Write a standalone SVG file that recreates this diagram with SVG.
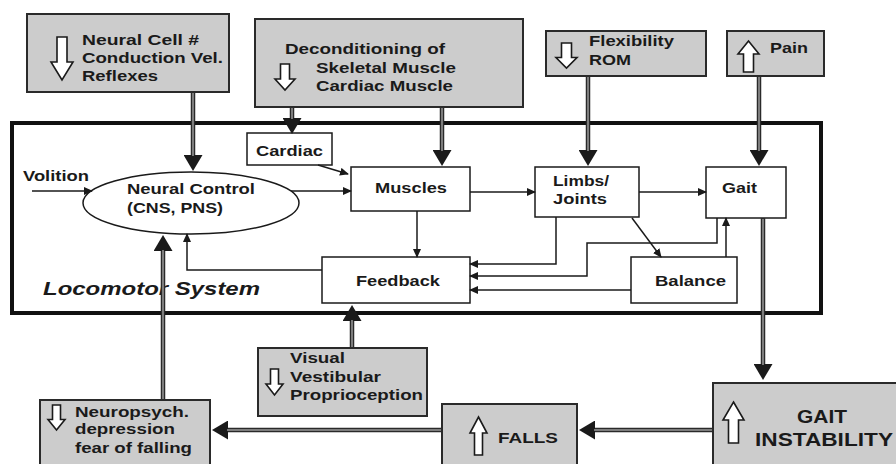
<svg xmlns="http://www.w3.org/2000/svg" width="896" height="464" viewBox="0 0 896 464">
<style>
.t{font-family:"Liberation Sans",Arial,sans-serif;font-weight:bold;font-size:15.5px;fill:#1a1a1a}
.big{font-size:18px}
.it{font-style:italic;font-size:18px}
.gbox{fill:#cccccc;stroke:#2a2a2a;stroke-width:2}
.wbox{fill:#ffffff;stroke:#1a1a1a;stroke-width:1.5}
.ico{fill:#ffffff;stroke:#1a1a1a;stroke-width:1.6;stroke-linejoin:miter}
.thk{fill:none;stroke:#2a2a2a;stroke-width:4.5}
.thi{fill:none;stroke:#9a9a9a;stroke-width:1.5}
.thn{fill:none;stroke:#1a1a1a;stroke-width:1.5}
</style>
<defs>
<marker id="mb" markerUnits="userSpaceOnUse" markerWidth="17" markerHeight="19" refX="1" refY="9.5" orient="auto"><path d="M0,0 L16,9.5 L0,19 Z" fill="#1a1a1a"/></marker>
<marker id="ms" markerUnits="userSpaceOnUse" markerWidth="10" markerHeight="8" refX="8" refY="4" orient="auto"><path d="M0,0 L9,4 L0,8 Z" fill="#1a1a1a"/></marker>
</defs>
<rect x="0" y="0" width="896" height="464" fill="#ffffff"/>

<g id="locomotor-system">
<rect x="12" y="123" width="809" height="190" fill="none" stroke="#111" stroke-width="4"/>
<text class="t it" x="43" y="295" textLength="217" lengthAdjust="spacingAndGlyphs">Locomotor System</text>
</g>

<g id="neural-cell">
<rect class="gbox" x="27" y="14" width="202" height="78"/>
<path class="ico" d="M57,37 H67 V62 H73 L62,80 L51,62 H57 Z"/>
<text class="t" x="82" y="45" textLength="117" lengthAdjust="spacingAndGlyphs">Neural Cell #</text>
<text class="t" x="82" y="63" textLength="141" lengthAdjust="spacingAndGlyphs">Conduction Vel.</text>
<text class="t" x="82" y="81" textLength="76" lengthAdjust="spacingAndGlyphs">Reflexes</text>
</g>

<g id="deconditioning">
<rect class="gbox" x="255" y="19" width="268" height="88"/>
<path class="ico" d="M280.5,64 H289.5 V79 H295 L285,90 L275,79 H280.5 Z"/>
<text class="t" x="285" y="54" textLength="160" lengthAdjust="spacingAndGlyphs">Deconditioning of</text>
<text class="t" x="316" y="73" textLength="140" lengthAdjust="spacingAndGlyphs">Skeletal Muscle</text>
<text class="t" x="316" y="91" textLength="137" lengthAdjust="spacingAndGlyphs">Cardiac Muscle</text>
</g>

<g id="flexibility">
<rect class="gbox" x="546" y="31" width="160" height="45"/>
<path class="ico" d="M561.5,43 H571.5 V57.5 H577 L566.5,68 L556,57.5 H561.5 Z"/>
<text class="t" x="589" y="46" textLength="85" lengthAdjust="spacingAndGlyphs">Flexibility</text>
<text class="t" x="589" y="65" textLength="42" lengthAdjust="spacingAndGlyphs">ROM</text>
</g>

<g id="pain">
<rect class="gbox" x="727" y="31" width="97" height="45"/>
<path class="ico" d="M748.5,41 L759,54 H753.5 V72 H743.5 V54 H738 Z"/>
<text class="t" x="770" y="53" textLength="38" lengthAdjust="spacingAndGlyphs">Pain</text>
</g>

<g id="cardiac">
<rect class="wbox" x="247" y="133" width="85" height="32"/>
<text class="t" x="256" y="156" textLength="67" lengthAdjust="spacingAndGlyphs">Cardiac</text>
</g>

<g id="volition">
<text class="t" x="23" y="181" textLength="66" lengthAdjust="spacingAndGlyphs">Volition</text>
</g>

<g id="neural-control">
<ellipse cx="191" cy="203" rx="108" ry="31" fill="#ffffff" stroke="#1a1a1a" stroke-width="1.5"/>
<text class="t" x="127" y="194" textLength="128" lengthAdjust="spacingAndGlyphs">Neural Control</text>
<text class="t" x="127" y="213" textLength="96" lengthAdjust="spacingAndGlyphs">(CNS, PNS)</text>
</g>

<g id="muscles">
<rect class="wbox" x="351" y="167" width="119" height="44"/>
<text class="t" x="375" y="193" textLength="72" lengthAdjust="spacingAndGlyphs">Muscles</text>
</g>

<g id="limbs-joints">
<rect class="wbox" x="535" y="167" width="104" height="50"/>
<text class="t" x="553" y="186" textLength="56" lengthAdjust="spacingAndGlyphs">Limbs/</text>
<text class="t" x="553" y="204" textLength="54" lengthAdjust="spacingAndGlyphs">Joints</text>
</g>

<g id="gait">
<rect class="wbox" x="706" y="167" width="80" height="51"/>
<text class="t" x="722" y="193" textLength="35" lengthAdjust="spacingAndGlyphs">Gait</text>
</g>

<g id="feedback">
<rect class="wbox" x="322" y="257" width="148" height="46"/>
<text class="t" x="356" y="286" textLength="84" lengthAdjust="spacingAndGlyphs">Feedback</text>
</g>

<g id="balance">
<rect class="wbox" x="631" y="257" width="106" height="46"/>
<text class="t" x="655" y="286" textLength="71" lengthAdjust="spacingAndGlyphs">Balance</text>
</g>

<g id="sensory">
<rect class="gbox" x="258" y="348" width="169" height="68"/>
<path class="ico" d="M270.5,369 H278.5 V384 H283 L274.5,395 L266,384 H270.5 Z"/>
<text class="t" x="290" y="363" textLength="55" lengthAdjust="spacingAndGlyphs">Visual</text>
<text class="t" x="290" y="382" textLength="91" lengthAdjust="spacingAndGlyphs">Vestibular</text>
<text class="t" x="290" y="400" textLength="133" lengthAdjust="spacingAndGlyphs">Proprioception</text>
</g>

<g id="neuropsych">
<rect class="gbox" x="40" y="400" width="170" height="72"/>
<path class="ico" d="M52.5,405 H60.5 V419.5 H65 L56.5,430 L48,419.5 H52.5 Z"/>
<text class="t" x="75" y="417" textLength="114" lengthAdjust="spacingAndGlyphs">Neuropsych.</text>
<text class="t" x="75" y="434" textLength="100" lengthAdjust="spacingAndGlyphs">depression</text>
<text class="t" x="75" y="453" textLength="117" lengthAdjust="spacingAndGlyphs">fear of falling</text>
</g>

<g id="falls">
<rect class="gbox" x="442" y="404" width="135" height="72"/>
<path class="ico" d="M478.5,417 L487,433 H482.5 V455 H474.5 V433 H470 Z"/>
<text class="t" x="498" y="443" textLength="60" lengthAdjust="spacingAndGlyphs">FALLS</text>
</g>

<g id="gait-instability">
<rect class="gbox" x="713" y="383" width="200" height="92"/>
<path class="ico" d="M733.5,402 L744,420 H738.5 V443 H728.5 V420 H723 Z"/>
<text class="t big" x="797" y="423" textLength="50" lengthAdjust="spacingAndGlyphs">GAIT</text>
<text class="t big" x="755" y="446" textLength="138" lengthAdjust="spacingAndGlyphs">INSTABILITY</text>
</g>

<g id="connectors">
<path class="thk" d="M193,92 V156" marker-end="url(#mb)"/>
<path class="thi" d="M193,93 V156"/>
<path class="thk" d="M292,107 V119" marker-end="url(#mb)"/>
<path class="thi" d="M292,108 V119"/>
<path class="thk" d="M442,107 V151" marker-end="url(#mb)"/>
<path class="thi" d="M442,108 V151"/>
<path class="thk" d="M588,76 V151" marker-end="url(#mb)"/>
<path class="thi" d="M588,77 V151"/>
<path class="thk" d="M759,76 V151" marker-end="url(#mb)"/>
<path class="thi" d="M759,77 V151"/>
<path class="thk" d="M763,218 V365" marker-end="url(#mb)"/>
<path class="thi" d="M763,219 V365"/>
<path class="thk" d="M163,400 V250" marker-end="url(#mb)"/>
<path class="thi" d="M163,399 V250"/>
<path class="thk" d="M352,348 V320" marker-end="url(#mb)"/>
<path class="thi" d="M352,347 V320"/>
<path class="thk" d="M713,430 H594" marker-end="url(#mb)"/>
<path class="thi" d="M712,430 H594"/>
<path class="thk" d="M442,430 H227" marker-end="url(#mb)"/>
<path class="thi" d="M441,430 H227"/>
<path class="thn" d="M32,191 H92" marker-end="url(#ms)"/>
<path class="thn" d="M291,191 H351" marker-end="url(#ms)"/>
<path class="thn" d="M318,165 L348,174" marker-end="url(#ms)"/>
<path class="thn" d="M470,192 H535" marker-end="url(#ms)"/>
<path class="thn" d="M639,192 H706" marker-end="url(#ms)"/>
<path class="thn" d="M417,211 V257" marker-end="url(#ms)"/>
<path class="thn" d="M556,217 V264 H470" marker-end="url(#ms)"/>
<path class="thn" d="M717,218 V243 H587 V276 H470" marker-end="url(#ms)"/>
<path class="thn" d="M631,290 H470" marker-end="url(#ms)"/>
<path class="thn" d="M632,218 L661,257" marker-end="url(#ms)"/>
<path class="thn" d="M726,257 V218" marker-end="url(#ms)"/>
<path class="thn" d="M322,270 H187 V234" marker-end="url(#ms)"/>
</g>
</svg>
